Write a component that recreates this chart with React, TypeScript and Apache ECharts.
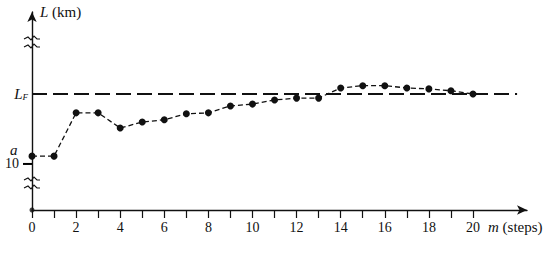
import React, { useEffect, useRef } from "react";
import * as echarts from "echarts";

const steps = [0, 1, 2, 3, 4, 5, 6, 7, 8, 9, 10, 11, 12, 13, 14, 15, 16, 17, 18, 19, 20];
const lengths = [11.7, 11.7, 21.1, 21.1, 17.8, 19.1, 19.6, 20.9, 21.1, 22.6, 23.0, 23.9, 24.3, 24.3, 26.5, 27.0, 27.0, 26.5, 26.3, 25.9, 25.2];
const LF = 25.2;
const lfSpan = [0, 22];
const xLabelValues = [0, 2, 4, 6, 8, 10, 12, 14, 16, 18, 20];
const yTickValues = [10];
const yLabelValues = [10, LF];

const FONT = "serif";
const INK = "#111";

export default function App() {
  const ref = useRef<HTMLDivElement>(null);
  useEffect(() => {
    if (!ref.current) return;
    const chart = echarts.init(ref.current, null, { renderer: "svg" });
    const zig = (y: number) => [
      [24, y + 1],
      [28, y - 1],
      [31, y + 2],
      [34, y - 2],
      [37, y + 1],
      [40, y + 1],
    ];
    const txt = { fontFamily: FONT, color: INK };
    chart.setOption({
      animation: false,
      backgroundColor: "#fff",
      textStyle: { fontFamily: FONT },
      grid: { left: 32, top: 12, right: 23, bottom: 45 },
      xAxis: {
        type: "value",
        min: 0,
        max: 22.45,
        splitLine: { show: false },
        axisLine: {
          show: true,
          onZero: false,
          symbol: ["none", "arrow"],
          symbolSize: [7, 10],
          lineStyle: { color: INK, width: 1.4 },
        },
        axisTick: {
          show: true,
          inside: false,
          length: 8,
          customValues: steps,
          lineStyle: { color: INK, width: 1.2 },
        },
        axisLabel: {
          customValues: xLabelValues,
          margin: 10,
          hideOverlap: false,
          ...txt,
          fontSize: 14,
        },
        name: "{i|m}{t| (steps)}",
        nameLocation: "end",
        nameGap: -39,
        nameTextStyle: {
          ...txt,
          fontSize: 15,
          align: "left",
          verticalAlign: "middle",
          padding: [34, 0, 0, 0],
          rich: {
            i: { ...txt, fontStyle: "italic", fontSize: 15 },
            t: { ...txt, fontSize: 15 },
          },
        },
      },
      yAxis: {
        type: "value",
        min: 0,
        max: 43,
        splitLine: { show: false },
        axisLine: {
          show: true,
          onZero: false,
          symbol: ["none", "arrow"],
          symbolSize: [7, 10],
          lineStyle: { color: INK, width: 1.4 },
        },
        axisTick: { show: false },
        axisLabel: {
          customValues: yLabelValues,
          margin: 4,
          hideOverlap: false,
          ...txt,
          fontSize: 14,
          formatter: (v: number) => {
            if (Math.abs(v - 10) < 1e-6) return "{n|10}";
            return "{l|L}{s|F}";
          },
          rich: {
            n: { ...txt, fontSize: 14, padding: [0, 9, 0, 0] },
            l: { ...txt, fontSize: 15, fontStyle: "italic" },
            s: { ...txt, fontSize: 9, fontStyle: "italic", padding: [6, 0, 0, 0] },
          },
        },
        name: "{i|L}{t| (km)}",
        nameLocation: "end",
        nameGap: 0,
        nameTextStyle: {
          ...txt,
          fontSize: 15,
          align: "left",
          verticalAlign: "middle",
          padding: [0, 0, 0, 8],
          rich: {
            i: { ...txt, fontStyle: "italic", fontSize: 15 },
            t: { ...txt, fontSize: 15 },
          },
        },
      },
      series: [
        {
          type: "line",
          data: lfSpan.map((x) => [x, LF]),
          symbol: "none",
          lineStyle: { color: INK, width: 2, type: [15, 6] },
          z: 1,
        },
        {
          type: "line",
          data: steps.map((s, i) =>
            i === 0
              ? {
                  value: [s, lengths[i]],
                  label: {
                    show: true,
                    position: "left",
                    distance: 11,
                    offset: [0, -6],
                    formatter: "{a|a}",
                    rich: { a: { ...txt, fontSize: 15, fontStyle: "italic" } },
                  },
                }
              : [s, lengths[i]]
          ),
          symbol: "circle",
          symbolSize: 7,
          itemStyle: { color: INK },
          lineStyle: { color: INK, width: 1.3, type: [5, 3] },
          z: 3,
        },
        {
          type: "scatter",
          data: [[0, 0]],
          symbolSize: 5,
          itemStyle: { color: INK },
          z: 4,
        },
        {
          type: "custom",
          data: yTickValues.map((v) => [0, v]),
          clip: false,
          silent: true,
          renderItem: (params: any, api: any) => {
            const p = api.coord([api.value(0), api.value(1)]);
            return {
              type: "line",
              shape: { x1: p[0] - 9, y1: p[1], x2: p[0], y2: p[1] },
              style: { stroke: "#000", lineWidth: 2 },
            };
          },
          z: 5,
        },
      ],
      graphic: [
        { type: "polyline", shape: { points: zig(38) }, style: { stroke: INK, lineWidth: 1.1, fill: "none" } },
        { type: "polyline", shape: { points: zig(46) }, style: { stroke: INK, lineWidth: 1.1, fill: "none" } },
        { type: "polyline", shape: { points: zig(179) }, style: { stroke: INK, lineWidth: 1.1, fill: "none" } },
        { type: "polyline", shape: { points: zig(187) }, style: { stroke: INK, lineWidth: 1.1, fill: "none" } },
      ],
    });
    return () => chart.dispose();
  }, []);
  return <div ref={ref} style={{ width: 550, height: 255, position: "absolute", left: 0, top: 0 }} />;
}
